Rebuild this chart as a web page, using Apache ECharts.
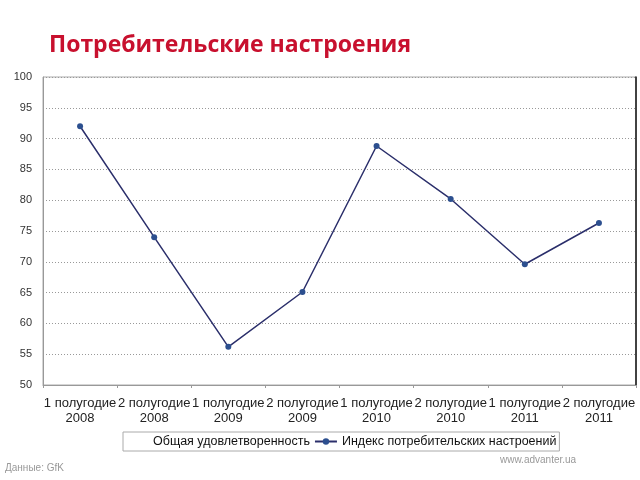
<!DOCTYPE html>
<html>
<head>
<meta charset="utf-8">
<script src="https://cdn.jsdelivr.net/npm/echarts@6/dist/echarts.min.js"></script>
<style>
html,body{margin:0;padding:0;background:#fff;}
#c{width:640px;height:480px;}
</style>
</head>
<body>
<div id="c"></div>
<script>
var categories = ['1 полугодие\n2008','2 полугодие\n2008','1 полугодие\n2009','2 полугодие\n2009','1 полугодие\n2010','2 полугодие\n2010','1 полугодие\n2011','2 полугодие\n2011'];
var indexValues = [92, 74, 56.2, 65.1, 88.8, 80.2, 69.6, 76.3];
var satisfactionValues = [null, null, null, null, null, null, null, null];
var seriesNames = ['Общая удовлетворенность', 'Индекс потребительских настроений'];
var yMin = 50, yMax = 100, yStep = 5;

var chart = echarts.init(document.getElementById('c'), null, {renderer:'canvas'});
var font = 'Liberation Sans, Arial, sans-serif';
chart.setOption({
  animation:false,
  backgroundColor:'#fff',
  title:{
    text:'Потребительские настроения',
    left:44, top:29,
    textStyle:{color:'#c8102e', fontSize:23, fontWeight:'bold', fontFamily:'Open Sans, DejaVu Sans, sans-serif'}
  },
  graphic:[
    {type:'text', left:5, top:463, style:{text:'Данные: GfK', fill:'#999', font:'10px '+font}},
    {type:'text', left:500, top:455, style:{text:'www.advanter.ua', fill:'#999', font:'10px '+font}}
  ],
  legend:{
    left:123, top:432,
    padding:[3,3,3,3],
    itemGap:4,
    itemWidth:22, itemHeight:8,
    borderColor:'#aaa', borderWidth:1,
    textStyle:{fontSize:12.5, color:'#111', fontFamily:font},
    data:[
      {name:seriesNames[0], icon:'none'},
      {name:seriesNames[1]}
    ]
  },
  grid:{left:43, right:4, top:77, bottom:95, containLabel:false,
    show:true, borderColor:'#aaa', borderWidth:1},
  xAxis:{
    type:'category',
    data:categories,
    boundaryGap:true,
    axisLine:{lineStyle:{color:'#999'}},
    axisTick:{show:true, length:3, lineStyle:{color:'#999'}},
    axisLabel:{color:'#222', fontSize:13, fontFamily:font, lineHeight:15, margin:11, interval:0}
  },
  yAxis:[{
    type:'value', min:yMin, max:yMax, interval:yStep,
    axisLine:{show:true, lineStyle:{color:'#999'}},
    axisTick:{show:false},
    splitLine:{lineStyle:{color:'#999', type:[1,2], width:1}},
    axisLabel:{color:'#333', fontSize:11, fontFamily:font, margin:11}
  },{
    type:'value', min:yMin, max:yMax, interval:yStep, position:'right',
    axisLine:{show:true, lineStyle:{color:'#111', width:1.5}},
    axisTick:{show:false}, axisLabel:{show:false}, splitLine:{show:false}
  }],
  series:[
    {name:seriesNames[0], type:'line', data:satisfactionValues, symbol:'none',
      lineStyle:{color:'transparent'}, itemStyle:{color:'transparent'}},
    {name:seriesNames[1], type:'line', data:indexValues,
      symbol:'circle', symbolSize:6,
      lineStyle:{color:'#2b2f6b', width:1.5},
      itemStyle:{color:'#2c4f8f'}}
  ]
});
</script>
</body>
</html>
